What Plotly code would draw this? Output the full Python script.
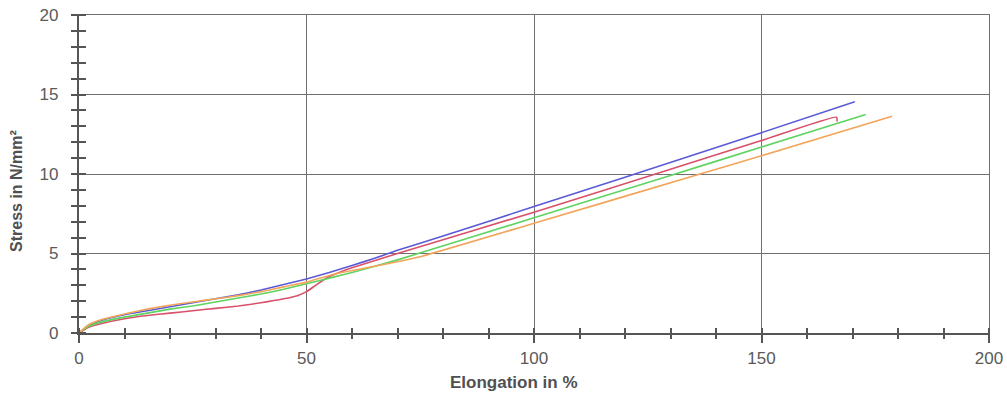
import plotly.graph_objects as go

# Elongation (%) / Stress (N/mm²) per specimen
blue_x = [0, 2, 5, 10, 15, 20, 25, 30, 35, 40, 45, 50, 55, 60, 65, 70, 80, 100, 120, 150, 170.5]
blue_y = [0, 0.45, 0.8, 1.15, 1.4, 1.65, 1.9, 2.15, 2.4, 2.7, 3.05, 3.4, 3.8, 4.25, 4.7, 5.2, 6.1, 7.95, 9.8, 12.6, 14.55]

red_x = [0, 2, 5, 10, 15, 20, 25, 30, 35, 40, 45, 48, 50, 52, 55, 58, 60, 70, 100, 130, 150, 166.5, 166.6]
red_y = [0, 0.35, 0.6, 0.9, 1.1, 1.25, 1.4, 1.55, 1.7, 1.9, 2.15, 2.35, 2.6, 3.0, 3.55, 3.9, 4.1, 5.0, 7.6, 10.3, 12.1, 13.57, 13.3]

green_x = [0, 2, 5, 10, 15, 20, 25, 30, 35, 40, 45, 50, 55, 60, 70, 100, 130, 150, 172.9]
green_y = [0, 0.4, 0.7, 1.0, 1.25, 1.5, 1.7, 1.95, 2.2, 2.45, 2.75, 3.1, 3.45, 3.8, 4.6, 7.25, 9.9, 11.7, 13.74]

orange_x = [0, 2, 5, 10, 15, 20, 25, 30, 35, 40, 45, 50, 56, 65, 75, 100, 136.5, 150, 178.7]
orange_y = [0, 0.5, 0.85, 1.2, 1.5, 1.75, 1.95, 2.15, 2.35, 2.6, 2.9, 3.2, 3.7, 4.2, 4.8, 6.9, 10.0, 11.15, 13.63]

series = [
    (blue_x, blue_y, "#5a5ad6"),
    (red_x, red_y, "#d9506a"),
    (green_x, green_y, "#5fd35f"),
    (orange_x, orange_y, "#f2a55a"),
]

x_ticks = [0, 50, 100, 150, 200]
y_ticks = [0, 5, 10, 15, 20]
x_title = "Elongation in %"
y_title = "Stress in N/mm²"

fig = go.Figure()
for xs, ys, c in series:
    fig.add_trace(go.Scatter(x=xs, y=ys, mode="lines",
                             line=dict(color=c, width=1.6, shape="spline", smoothing=0.5),
                             showlegend=False, hoverinfo="skip"))
# invisible trace to carry the overlay axes (inner halves of the crossing ticks)
fig.add_trace(go.Scatter(x=[0], y=[0], xaxis="x2", yaxis="y2", mode="markers",
                         marker=dict(opacity=0), showlegend=False, hoverinfo="skip"))

FONT = "Liberation Sans, Arial, sans-serif"
axis_font = dict(family=FONT, size=17, color="#5a5a5a")
grid_col = "#707070"
tick_col = "#555"

fig.update_layout(
    width=1007, height=394,
    margin=dict(l=79, r=18, t=15, b=61, autoexpand=False),
    paper_bgcolor="white", plot_bgcolor="white",
    xaxis=dict(range=[0, 200], tickvals=x_ticks, ticks="outside", ticklen=9, tickwidth=1.5, tickcolor=tick_col,
               minor=dict(dtick=10, tick0=0, ticks="outside", ticklen=5, tickwidth=1.5, tickcolor=tick_col, showgrid=False),
               showgrid=True, gridcolor=grid_col, gridwidth=1.3, zeroline=False,
               showline=True, linecolor=grid_col, linewidth=1.3, mirror=True,
               tickfont=axis_font, ticklabelstandoff=0, automargin=False),
    yaxis=dict(range=[0, 20], tickvals=y_ticks, ticks="outside", ticklen=7, tickwidth=1.5, tickcolor=tick_col,
               minor=dict(dtick=1, tick0=0, ticks="outside", ticklen=7, tickwidth=1.5, tickcolor=tick_col, showgrid=False),
               showgrid=True, gridcolor=grid_col, gridwidth=1.3, zeroline=False,
               showline=True, linecolor=grid_col, linewidth=1.3, mirror=True,
               tickfont=axis_font, ticklabelstandoff=9, automargin=False),
    xaxis2=dict(range=[0, 200], overlaying="x", anchor="y2", side="bottom", showgrid=False, zeroline=False,
                showticklabels=False, tickvals=[], ticks="", automargin=False,
                showline=True, linecolor=tick_col, linewidth=1.8,
                minor=dict(dtick=10, tick0=0, ticks="inside", ticklen=5, tickwidth=1.5, tickcolor=tick_col, showgrid=False)),
    yaxis2=dict(range=[0, 20], overlaying="y", anchor="x2", side="left", showgrid=False, zeroline=False,
                showticklabels=False, tickvals=[], ticks="", automargin=False,
                showline=True, linecolor=tick_col, linewidth=1.8,
                minor=dict(dtick=1, tick0=0, ticks="inside", ticklen=7, tickwidth=1.5, tickcolor=tick_col, showgrid=False)),
    annotations=[
        dict(text=f"<b>{x_title}</b>", xref="paper", yref="paper", x=0.478, y=-0.155,
             xanchor="center", yanchor="middle", showarrow=False,
             font=dict(family=FONT, size=17, color="#505050")),
        dict(text=f"<b>{y_title}</b>", xref="paper", yref="paper", x=-0.068, y=0.447,
             xanchor="center", yanchor="middle", textangle=-90, showarrow=False,
             font=dict(family=FONT, size=16, color="#505050")),
    ],
)

fig.write_html("out.html", config={"displayModeBar": False},
               post_script="document.body.style.margin='0px';document.body.style.overflow='hidden';")
